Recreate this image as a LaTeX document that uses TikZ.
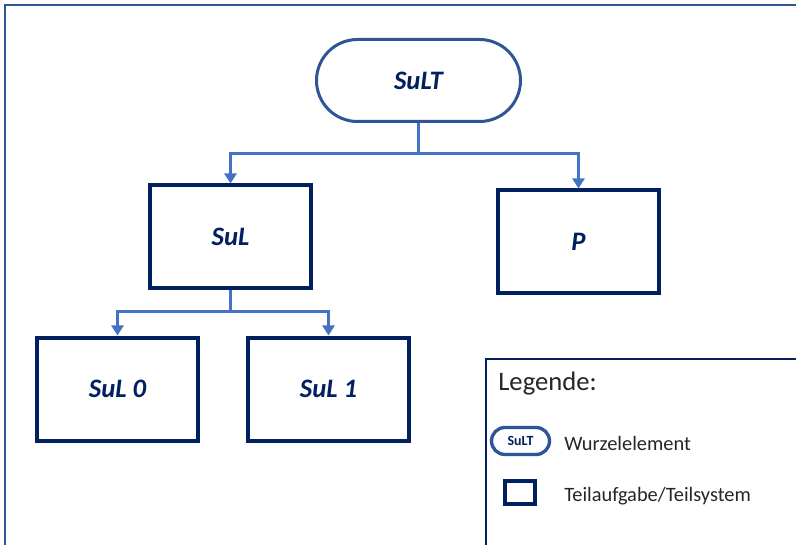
\documentclass[tikz,border=0pt]{standalone}
\usepackage{fontspec}
\setmainfont{Carlito}
\usetikzlibrary{arrows.meta}
\definecolor{navy}{HTML}{002060}
\definecolor{rootblue}{HTML}{2F5597}
\definecolor{linkblue}{HTML}{4472C4}

\begin{document}
\begin{tikzpicture}[
  x=0.75pt,y=-0.75pt,
  >={Triangle[width=9pt,length=7.5pt]},
  root/.style={draw=rootblue,line width=2.25pt,rounded corners=30.75pt,
    minimum width=153pt,minimum height=61.5pt,inner sep=0pt,text=navy,
    font=\fontsize{20}{24}\selectfont\bfseries\itshape},
  task/.style={draw=navy,line width=3pt,minimum width=120.75pt,
    minimum height=77.25pt,inner sep=0pt,text=navy,
    font=\fontsize{20}{24}\selectfont\bfseries\itshape},
  link/.style={linkblue,line width=2.25pt},
  note/.style={anchor=base west,inner sep=0pt,text=black!85}
]
  \useasboundingbox (0,0) rectangle (796,545);
  \clip (0,0) rectangle (796,545);
  \fill[white] (0,0) rectangle (796,545);
  \draw[rootblue,line width=1.1pt] (5,5) rectangle (820,570);

  \node[root] (sult) at (418.5,80.5) {SuLT};
  \node[task] (sul) at (230.5,237) {SuL};
  \node[task] (p) at (578.5,242) {P};
  \node[task] (sul0) at (117.5,389) {SuL 0};
  \node[task] (sul1) at (328.5,389) {SuL 1};

  \coordinate (j1) at (418.5,154);
  \coordinate (j2) at (230.5,312);
  \draw[link] (sult.south) -- (j1);
  \draw[link,->] (j1) -| (sul.north);
  \draw[link,->] (j1) -| (p.north);
  \draw[link] (sul.south) -- (j2);
  \draw[link,->] (j2) -| (sul0.north);
  \draw[link,->] (j2) -| (sul1.north);

  \draw[navy,line width=1pt] (486,359) rectangle (820,570);
  \node[note,font=\fontsize{20}{24}\selectfont] (legtitle) at (498,390) {Legende:};
  \node[root,line width=2.5pt,minimum width=43.5pt,minimum height=20.25pt,
    rounded corners=10.1pt,font=\fontsize{10.5}{12}\selectfont\bfseries]
    (legroot) at (520.5,441) {SuLT};
  \node[note,font=\fontsize{15.3}{18}\selectfont] (legroottext) at (564,450) {Wurzelelement};
  \node[task,minimum width=22.5pt,minimum height=17.25pt] (legtask) at (520,492.5) {};
  \node[note,font=\fontsize{15.3}{18}\selectfont] (legtasktext) at (564,501) {Teilaufgabe/Teilsystem};
\end{tikzpicture}
\end{document}
